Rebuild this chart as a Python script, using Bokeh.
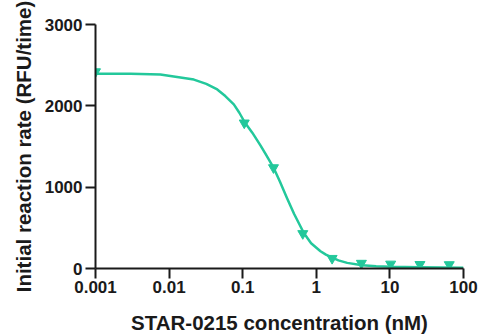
from bokeh.plotting import figure
from bokeh.models import FixedTicker
from bokeh.embed import file_html
from bokeh.resources import INLINE

# Measured data (concentration in nM; 0.001 stands for the no-inhibitor point)
conc = [0.001, 0.105, 0.262, 0.655, 1.64, 4.1, 10.24, 25.6, 64.0]
rate = [2420, 1790, 1240, 430, 125, 65, 55, 50, 48]

# Fitted dose-response curve
curve_x = [0.001, 0.003, 0.0076, 0.0217, 0.032, 0.0451, 0.058, 0.0757, 0.09,
           0.107, 0.135, 0.175, 0.21, 0.26, 0.32, 0.402, 0.5, 0.677, 0.85,
           1.14, 1.35, 1.675, 2.0, 2.63, 4.2, 6.5, 10.2, 25.0, 50.0, 100.0]
curve_y = [2396, 2393, 2384, 2323, 2270, 2201, 2120, 2018, 1915,
           1795, 1670, 1510, 1390, 1247, 1070, 862, 670, 436, 310,
           212, 170, 130, 100, 69, 41, 29, 21, 14, 11, 9]

x_ticks = [0.001, 0.01, 0.1, 1, 10, 100]
x_tick_labels = ["0.001", "0.01", "0.1", "1", "10", "100"]
y_ticks = [0, 1000, 2000, 3000]

color = "#23C89B"
ink = "#1a1a1a"
font = "Liberation Sans"

p = figure(width=479, height=336, x_axis_type="log",
           x_range=(0.001, 100), y_range=(0, 3000),
           output_backend="svg", toolbar_location=None,
           min_border_left=95, min_border_right=16,
           min_border_top=24, min_border_bottom=65)
p.outline_line_color = None
p.xgrid.visible = False
p.ygrid.visible = False
p.background_fill_color = "white"
p.border_fill_color = "white"

p.line(curve_x, curve_y, line_width=2.5, color=color, line_join="round")
p.scatter(conc, rate, marker="inverted_triangle", size=10,
          fill_color=color, line_color=color)

for ax in (p.xaxis[0], p.yaxis[0]):
    ax.axis_line_color = ink
    ax.axis_line_width = 2
    ax.major_tick_line_color = ink
    ax.major_tick_line_width = 2
    ax.major_tick_out = 10
    ax.major_tick_in = 0
    ax.minor_tick_line_color = None
    ax.major_label_text_font = font
    ax.major_label_text_font_style = "bold"
    ax.major_label_text_font_size = "17px"
    ax.major_label_text_color = ink
    ax.axis_label_text_font = font
    ax.axis_label_text_font_style = "bold"
    ax.axis_label_text_font_size = "20.5px"
    ax.axis_label_text_color = ink

p.xaxis.ticker = FixedTicker(ticks=x_ticks)
p.xaxis.major_label_overrides = {t: l for t, l in zip(x_ticks, x_tick_labels)}
p.xaxis.axis_label = "STAR-0215 concentration (nM)"
p.xaxis.major_label_standoff = 2
p.xaxis.axis_label_standoff = 15

p.yaxis.ticker = FixedTicker(ticks=y_ticks)
p.yaxis.axis_label = "Initial reaction rate (RFU/time)"
p.yaxis.major_label_standoff = 3
p.yaxis.axis_label_standoff = 7

open("out.html", "w").write(file_html(p, INLINE))
